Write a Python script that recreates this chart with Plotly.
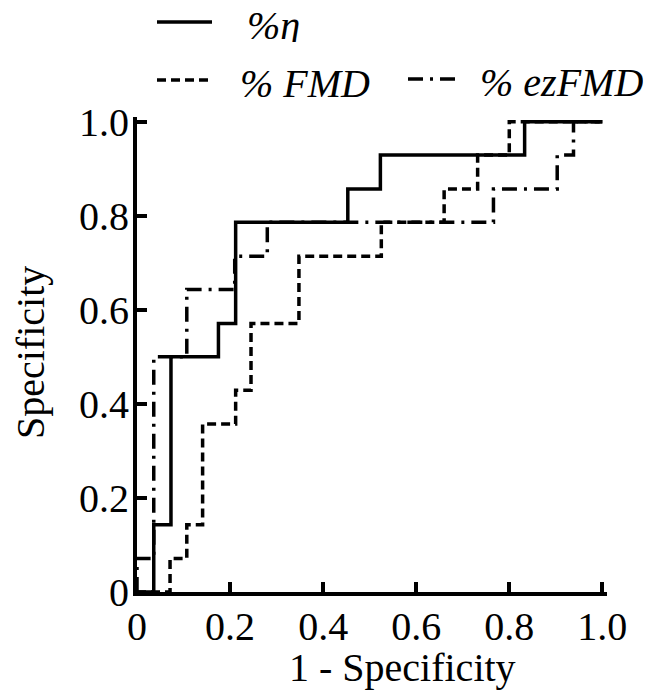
import plotly.graph_objects as go

# ROC step curves (x = 1 - Specificity, y = Specificity)
eta_x = [0, 0.036, 0.036, 0.073, 0.073, 0.175, 0.175, 0.212, 0.212, 0.453, 0.453, 0.523, 0.523, 0.833, 0.833, 1.0]
eta_y = [0, 0, 0.143, 0.143, 0.5, 0.5, 0.571, 0.571, 0.786, 0.786, 0.857, 0.857, 0.929, 0.929, 1.0, 1.0]

fmd_x = [0, 0.071, 0.071, 0.107, 0.107, 0.141, 0.141, 0.212, 0.212, 0.245, 0.245, 0.348, 0.348, 0.525, 0.525, 0.66, 0.66, 0.732, 0.732, 0.80, 0.80, 1.0]
fmd_y = [0, 0, 0.071, 0.071, 0.143, 0.143, 0.357, 0.357, 0.429, 0.429, 0.571, 0.571, 0.714, 0.714, 0.786, 0.786, 0.857, 0.857, 0.929, 0.929, 1.0, 1.0]

ez_x = [0, 0, 0.036, 0.036, 0.107, 0.107, 0.21, 0.21, 0.28, 0.28, 0.766, 0.766, 0.903, 0.903, 0.938, 0.938, 1.0]
ez_y = [0, 0.071, 0.071, 0.5, 0.5, 0.643, 0.643, 0.714, 0.714, 0.786, 0.786, 0.857, 0.857, 0.929, 0.929, 1.0, 1.0]

tick_vals = [0, 0.2, 0.4, 0.6, 0.8, 1.0]
tick_text = ["0", "0.2", "0.4", "0.6", "0.8", "1.0"]

series_names = ["%η", "% FMD", "% ezFMD"]
x_title = "1 - Specificity"
y_title = "Specificity"

FONT = "Liberation Serif"
FS = 40
OFF = 8  # page body margin
W, H = 655 - OFF, 693 - OFF
L, R, T, B = 129, 48, 109, 101
PW, PH = W - L - R, H - T - B

def px(x):
    # page pixel -> paper fraction
    return (x - OFF - L) / PW

def py(y):
    return (H - B - (y - OFF)) / PH

SOLID = dict(color="black", width=3.5)
DASH = dict(color="black", width=3.5, dash="9px,5px")
DASHDOT = dict(color="black", width=3.5, dash="15px,7px,3px,7px")

fig = go.Figure()
fig.add_trace(go.Scatter(x=eta_x, y=eta_y, mode="lines", name=series_names[0], line=SOLID, showlegend=False))
fig.add_trace(go.Scatter(x=fmd_x, y=fmd_y, mode="lines", name=series_names[1], line=DASH, showlegend=False))
fig.add_trace(go.Scatter(x=ez_x, y=ez_y, mode="lines", name=series_names[2], line=DASHDOT, showlegend=False))

axis_common = dict(
    range=[0, 1.01], tickvals=tick_vals, ticktext=tick_text,
    ticks="inside", ticklen=10, tickwidth=3.5, tickcolor="black",
    showline=True, linecolor="black", linewidth=4, showgrid=False, zeroline=False,
    tickfont=dict(family=FONT, size=FS, color="black"),
)

# manual legend (line samples + italic labels), positions in page pixels
legend_items = [
    (157, 212, 22, SOLID, 245, series_names[0]),
    (157, 212, 80, DASH, 238, series_names[1]),
    (408, 460, 79, DASHDOT, 478, series_names[2]),
]
shapes = []
annotations = []
for x0, x1, yy, ln, tx, label in legend_items:
    shapes.append(dict(type="line", xref="paper", yref="paper", x0=px(x0), x1=px(x1), y0=py(yy), y1=py(yy), line=ln))
    annotations.append(dict(xref="paper", yref="paper", x=px(tx), y=py(yy + 3), xanchor="left", yanchor="middle",
                            height=34, valign="middle",
                            text=f"<i>{label}</i>", showarrow=False, font=dict(family=FONT, size=FS, color="black")))

annotations.append(dict(xref="paper", yref="paper", x=px(402), y=py(667), xanchor="center", yanchor="middle",
                        text=x_title, showarrow=False, font=dict(family=FONT, size=FS, color="black")))
annotations.append(dict(xref="paper", yref="paper", x=px(30), y=py(353), xanchor="center", yanchor="middle",
                        text=y_title, textangle=-90, showarrow=False, font=dict(family=FONT, size=FS, color="black")))

fig.update_layout(
    width=W, height=H,
    margin=dict(l=L, r=R, t=T, b=B, autoexpand=False),
    paper_bgcolor="white", plot_bgcolor="white",
    xaxis=dict(**axis_common, ticklabelstandoff=-4),
    yaxis=dict(**axis_common, ticklabelstandoff=-4),
    shapes=shapes, annotations=annotations,
    showlegend=False,
)

fig.write_html("out.html")
